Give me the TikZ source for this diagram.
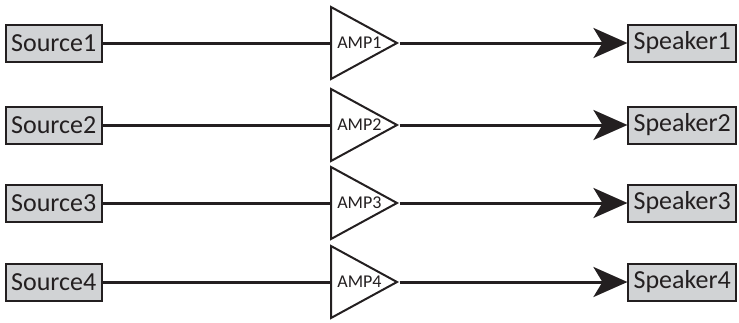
\documentclass[tikz,border=0pt]{standalone}
\usepackage{fontspec}
\setmainfont{Carlito}
\usetikzlibrary{shapes.geometric,arrows.meta}
\definecolor{boxgray}{RGB}{209,211,213}
\definecolor{inkgray}{RGB}{35,31,32}
\tikzset{
  io/.style={draw=inkgray,line width=1pt,fill=boxgray,font=\fontsize{13}{15}\selectfont,
    text=inkgray,minimum height=18.5pt,inner xsep=2.6pt,inner ysep=0pt},
  amp/.style={draw=inkgray,line width=1pt,isosceles triangle,isosceles triangle stretches,
    shape border rotate=0,minimum height=33pt,minimum width=36pt,inner sep=0pt,
    font=\fontsize{9}{10}\selectfont,text=inkgray},
  wire/.style={draw=inkgray,line width=1.5pt}
}
\begin{document}
\begin{tikzpicture}[x=0.5pt,y=-0.5pt]
  \useasboundingbox (0,0) rectangle (739,322);
  \node[io,anchor=west] (src1) at (5,43) {Source1};
  \node[io,anchor=west] (src2) at (5,125) {Source2};
  \node[io,anchor=west] (src3) at (5,203) {Source3};
  \node[io,anchor=west] (src4) at (5,282) {Source4};
  \node[amp,anchor=lower side] (amp1) at (330,43) {\hspace*{2pt}AMP1};
  \node[amp,anchor=lower side] (amp2) at (330,125) {\hspace*{2pt}AMP2};
  \node[amp,anchor=lower side] (amp3) at (330,203) {\hspace*{2pt}AMP3};
  \node[amp,anchor=lower side] (amp4) at (330,282) {\hspace*{2pt}AMP4};
  \node[io,anchor=east] (spk1) at (737,43) {Speaker1};
  \node[io,anchor=east] (spk2) at (737,125) {Speaker2};
  \node[io,anchor=east] (spk3) at (737,203) {Speaker3};
  \node[io,anchor=east] (spk4) at (737,282) {Speaker4};
  \begin{scope}[wire]
    \draw (src1) -- (amp1.lower side);
    \draw (src2) -- (amp2.lower side);
    \draw (src3) -- (amp3.lower side);
    \draw (src4) -- (amp4.lower side);
  \end{scope}
  \begin{scope}[wire,-{Stealth[length=17pt,width=15pt,inset=4.5pt]}]
    \draw (amp1.apex) -- (spk1);
    \draw (amp2.apex) -- (spk2);
    \draw (amp3.apex) -- (spk3);
    \draw (amp4.apex) -- (spk4);
  \end{scope}
\end{tikzpicture}
\end{document}
